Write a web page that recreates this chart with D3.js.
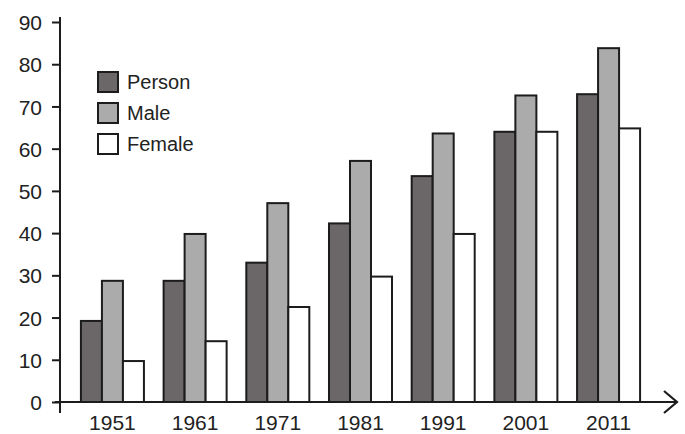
<!DOCTYPE html>
<html>
<head>
<meta charset="utf-8">
<script src="https://cdn.jsdelivr.net/npm/d3@7"></script>
<style>
  body { margin: 0; background: #fff; }
  text { font-family: "Liberation Sans", Arial, sans-serif; fill: #222; }
</style>
</head>
<body>
<svg width="685" height="434"></svg>
<script>
// literacy rates
const years = ['1951', '1961', '1971', '1981', '1991', '2001', '2011'];
const person = [19.2, 28.7, 33.0, 42.3, 53.5, 64.0, 72.9];
const male = [28.7, 39.8, 47.1, 57.1, 63.6, 72.6, 83.8];
const female = [9.7, 14.4, 22.5, 29.7, 39.8, 64.0, 64.8];
const seriesNames = ['Person', 'Male', 'Female'];
const yTicks = [0, 10, 20, 30, 40, 50, 60, 70, 80, 90];

const colors = { Person: '#6b6769', Male: '#ababab', Female: '#ffffff' };

const svg = d3.select('svg');

const x = d3.scaleBand()
    .domain(years)
    .range([71, 650])
    .paddingInner(0.238)
    .paddingOuter(0.12);

const xSub = d3.scaleBand()
    .domain(seriesNames)
    .range([0, x.bandwidth()]);

const y = d3.scaleLinear()
    .domain([0, 90])
    .range([402, 22]);

const rows = years.map((yr, i) => ({
    year: yr,
    values: [
        { key: 'Person', v: person[i] },
        { key: 'Male', v: male[i] },
        { key: 'Female', v: female[i] }
    ]
}));

// bars
svg.append('g')
    .selectAll('g')
    .data(rows)
    .join('g')
    .attr('transform', d => `translate(${x(d.year)},0)`)
    .selectAll('rect')
    .data(d => d.values)
    .join('rect')
    .attr('x', d => xSub(d.key))
    .attr('y', d => y(d.v))
    .attr('width', xSub.bandwidth())
    .attr('height', d => y(0) - y(d.v))
    .style('fill', d => colors[d.key])
    .style('stroke', '#1c1c1c')
    .style('stroke-width', 2);

// y axis
const yAxis = svg.append('g')
    .attr('transform', 'translate(60,0)')
    .call(d3.axisLeft(y).tickValues(yTicks).tickSize(8).tickPadding(10));
yAxis.select('.domain').remove();
yAxis.selectAll('line').style('stroke', '#1c1c1c').style('stroke-width', 2);
yAxis.selectAll('text')
    .style('font-size', '21px')
    .style('font-family', '"Liberation Sans", Arial, sans-serif')
    .style('fill', '#222')
    .attr('dy', '0.36em');

svg.append('line')
    .attr('x1', 60).attr('x2', 60)
    .attr('y1', 17).attr('y2', 413)
    .style('stroke', '#1c1c1c')
    .style('stroke-width', 2);

// x axis with arrow
svg.append('line')
    .attr('x1', 55).attr('x2', 676)
    .attr('y1', y(0)).attr('y2', y(0))
    .style('stroke', '#1c1c1c')
    .style('stroke-width', 2);

svg.append('path')
    .attr('d', d3.line()([[664, y(0) - 11], [677, y(0)], [664, y(0) + 11]]))
    .style('fill', 'none')
    .style('stroke', '#1c1c1c')
    .style('stroke-width', 2.2);

svg.append('g')
    .selectAll('text')
    .data(years)
    .join('text')
    .attr('x', d => x(d) + x.bandwidth() / 2)
    .attr('y', 430)
    .attr('text-anchor', 'middle')
    .style('font-size', '21px')
    .text(d => d);

// legend
const legend = svg.append('g')
    .attr('transform', 'translate(98,72)')
    .selectAll('g')
    .data(seriesNames)
    .join('g')
    .attr('transform', (d, i) => `translate(0,${i * 31})`);

legend.append('rect')
    .attr('width', 20)
    .attr('height', 20)
    .style('fill', d => colors[d])
    .style('stroke', '#1c1c1c')
    .style('stroke-width', 2);

legend.append('text')
    .attr('x', 29)
    .attr('y', 17)
    .style('font-size', '20px')
    .text(d => d);
</script>
</body>
</html>
